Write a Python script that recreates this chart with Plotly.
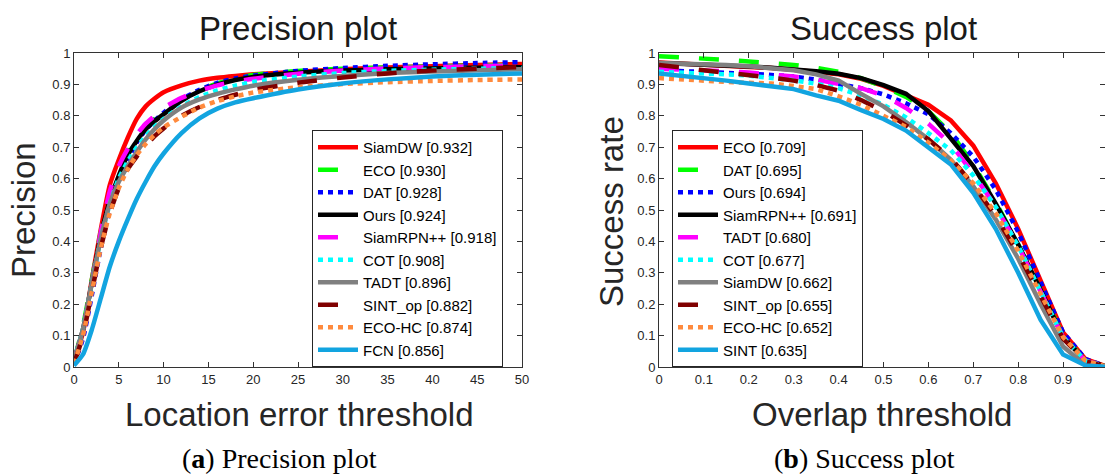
import plotly.graph_objects as go

# ---------------- Precision plot data ----------------
prec_x = [0, 1, 2, 3, 4, 5, 6, 7, 8, 9, 10, 12, 14, 16, 18, 20, 25, 30, 35, 40, 45, 50]

prec_names = ["SiamDW [0.932]", "ECO [0.930]", "DAT [0.928]", "Ours [0.924]",
              "SiamRPN++ [0.918]", "COT [0.908]", "TADT [0.896]", "SINT_op [0.882]",
              "ECO-HC [0.874]", "FCN [0.856]"]

prec_siamdw = [0.02, 0.11, 0.28, 0.44, 0.58, 0.66, 0.73, 0.79, 0.83, 0.855, 0.875, 0.897, 0.912, 0.921, 0.927, 0.932, 0.940, 0.948, 0.954, 0.958, 0.962, 0.965]
prec_eco = [0.02, 0.13, 0.28, 0.43, 0.54, 0.62, 0.685, 0.73, 0.765, 0.79, 0.81, 0.85, 0.88, 0.903, 0.918, 0.930, 0.943, 0.950, 0.954, 0.957, 0.960, 0.962]
prec_dat = [0.01, 0.09, 0.23, 0.38, 0.50, 0.59, 0.66, 0.715, 0.755, 0.785, 0.81, 0.852, 0.883, 0.905, 0.919, 0.928, 0.943, 0.952, 0.959, 0.964, 0.968, 0.971]
prec_ours = [0.02, 0.12, 0.27, 0.42, 0.53, 0.61, 0.675, 0.72, 0.757, 0.783, 0.805, 0.848, 0.878, 0.899, 0.914, 0.924, 0.937, 0.944, 0.948, 0.951, 0.953, 0.955]
prec_siamrpn = [0.02, 0.12, 0.27, 0.43, 0.56, 0.64, 0.695, 0.74, 0.775, 0.80, 0.825, 0.857, 0.880, 0.897, 0.909, 0.918, 0.934, 0.944, 0.951, 0.955, 0.958, 0.961]
prec_cot = [0.02, 0.12, 0.27, 0.41, 0.52, 0.60, 0.655, 0.70, 0.735, 0.765, 0.79, 0.83, 0.86, 0.881, 0.896, 0.908, 0.925, 0.936, 0.943, 0.947, 0.950, 0.952]
prec_tadt = [0.02, 0.12, 0.27, 0.41, 0.52, 0.59, 0.64, 0.685, 0.725, 0.758, 0.785, 0.826, 0.852, 0.870, 0.884, 0.896, 0.915, 0.927, 0.936, 0.941, 0.945, 0.948]
prec_sintop = [0.01, 0.10, 0.24, 0.38, 0.49, 0.57, 0.63, 0.67, 0.705, 0.735, 0.76, 0.80, 0.828, 0.850, 0.867, 0.882, 0.905, 0.922, 0.935, 0.944, 0.950, 0.955]
prec_ecohc = [0.01, 0.10, 0.24, 0.38, 0.49, 0.57, 0.63, 0.675, 0.71, 0.74, 0.763, 0.797, 0.826, 0.847, 0.862, 0.874, 0.891, 0.901, 0.907, 0.911, 0.914, 0.916]
prec_fcn = [0.005, 0.04, 0.12, 0.22, 0.32, 0.40, 0.47, 0.535, 0.59, 0.64, 0.68, 0.745, 0.792, 0.823, 0.843, 0.856, 0.884, 0.903, 0.916, 0.925, 0.931, 0.935]

prec_series = [prec_siamdw, prec_eco, prec_dat, prec_ours, prec_siamrpn,
               prec_cot, prec_tadt, prec_sintop, prec_ecohc, prec_fcn]

# ---------------- Success plot data ----------------
succ_x = [0, 0.05, 0.1, 0.15, 0.2, 0.25, 0.3, 0.35, 0.4, 0.45, 0.5,
          0.55, 0.6, 0.65, 0.7, 0.75, 0.8, 0.85, 0.9, 0.95, 1.0]

succ_names = ["ECO [0.709]", "DAT [0.695]", "Ours [0.694]", "SiamRPN++ [0.691]",
              "TADT [0.680]", "COT [0.677]", "SiamDW [0.662]", "SINT_op [0.655]",
              "ECO-HC [0.652]", "SINT [0.635]"]

succ_eco = [0.970, 0.967, 0.963, 0.960, 0.957, 0.952, 0.947, 0.940, 0.932, 0.918, 0.895, 0.865, 0.835, 0.785, 0.705, 0.585, 0.440, 0.275, 0.110, 0.025, 0.0]
succ_dat = [0.990, 0.987, 0.983, 0.978, 0.973, 0.968, 0.962, 0.953, 0.940, 0.920, 0.893, 0.860, 0.815, 0.745, 0.645, 0.525, 0.390, 0.245, 0.100, 0.020, 0.0]
succ_ours = [0.945, 0.943, 0.940, 0.937, 0.934, 0.930, 0.925, 0.915, 0.903, 0.888, 0.868, 0.840, 0.805, 0.745, 0.670, 0.565, 0.430, 0.270, 0.110, 0.025, 0.0]
succ_siamrpn = [0.968, 0.966, 0.963, 0.960, 0.957, 0.953, 0.948, 0.942, 0.934, 0.920, 0.898, 0.870, 0.815, 0.730, 0.640, 0.520, 0.390, 0.245, 0.095, 0.020, 0.0]
succ_tadt = [0.950, 0.948, 0.945, 0.942, 0.938, 0.933, 0.925, 0.915, 0.903, 0.888, 0.865, 0.825, 0.775, 0.710, 0.615, 0.510, 0.385, 0.240, 0.095, 0.020, 0.0]
succ_cot = [0.940, 0.938, 0.935, 0.932, 0.928, 0.922, 0.913, 0.902, 0.888, 0.865, 0.835, 0.795, 0.745, 0.690, 0.610, 0.510, 0.385, 0.240, 0.095, 0.020, 0.0]
succ_siamdw = [0.968, 0.967, 0.965, 0.962, 0.958, 0.952, 0.945, 0.932, 0.912, 0.870, 0.830, 0.780, 0.725, 0.660, 0.575, 0.470, 0.345, 0.200, 0.065, 0.005, 0.0]
succ_sintop = [0.962, 0.955, 0.945, 0.937, 0.930, 0.922, 0.912, 0.898, 0.880, 0.850, 0.815, 0.772, 0.725, 0.665, 0.580, 0.480, 0.360, 0.225, 0.090, 0.018, 0.0]
succ_ecohc = [0.920, 0.915, 0.912, 0.908, 0.905, 0.903, 0.895, 0.885, 0.862, 0.835, 0.800, 0.765, 0.715, 0.658, 0.585, 0.490, 0.370, 0.235, 0.095, 0.020, 0.0]
succ_sint = [0.935, 0.928, 0.920, 0.912, 0.903, 0.895, 0.885, 0.865, 0.848, 0.818, 0.790, 0.753, 0.700, 0.645, 0.555, 0.440, 0.300, 0.150, 0.040, 0.005, 0.0]

succ_series = [succ_eco, succ_dat, succ_ours, succ_siamrpn, succ_tadt,
               succ_cot, succ_siamdw, succ_sintop, succ_ecohc, succ_sint]

# ---------------- tick labels ----------------
prec_xticks = [0, 5, 10, 15, 20, 25, 30, 35, 40, 45, 50]
prec_xticktext = ["0", "5", "10", "15", "20", "25", "30", "35", "40", "45", "50"]
succ_xticks = [0, 0.1, 0.2, 0.3, 0.4, 0.5, 0.6, 0.7, 0.8, 0.9, 1.0]
succ_xticktext = ["0", "0.1", "0.2", "0.3", "0.4", "0.5", "0.6", "0.7", "0.8", "0.9", "1"]
yticks = [0, 0.1, 0.2, 0.3, 0.4, 0.5, 0.6, 0.7, 0.8, 0.9, 1.0]
yticktext = ["0", "0.1", "0.2", "0.3", "0.4", "0.5", "0.6", "0.7", "0.8", "0.9", "1"]

# ---------------- styles (by legend slot) ----------------
colors = ["#ff0000", "#00ff00", "#0000ff", "#000000", "#ff00ff",
          "#00ffff", "#808080", "#800000", "#ff8a3d", "#12a4e0"]
DASH = "20px,20px"
DOT = "5px,5px"
dashes = ["solid", DASH, DOT, "solid", DASH, DOT, "solid", DASH, DOT, "solid"]

W, H = 1105, 475
fig = go.Figure()

for i, (name, ys) in enumerate(zip(prec_names, prec_series)):
    fig.add_trace(go.Scatter(x=prec_x, y=ys, mode="lines", name=name,
                             line=dict(color=colors[i], width=4.5, dash=dashes[i], shape="spline", smoothing=0.6),
                             xaxis="x", yaxis="y", legend="legend"))
for i, (name, ys) in enumerate(zip(succ_names, succ_series)):
    fig.add_trace(go.Scatter(x=succ_x, y=ys, mode="lines", name=name,
                             line=dict(color=colors[i], width=4.5, dash=dashes[i]),
                             xaxis="x2", yaxis="y2", legend="legend2"))

ax_col = "#333333"
tick_font = dict(family="Liberation Sans, Arial, sans-serif", size=13, color="#262626")
common = dict(showline=True, linecolor=ax_col, linewidth=1, mirror="ticks",
              ticks="inside", ticklen=5, tickcolor=ax_col, showgrid=False,
              zeroline=False, tickfont=tick_font, fixedrange=True)

legend_font = dict(family="Liberation Sans, Arial, sans-serif", size=15, color="#000000")

ydom = [1 - 367 / H, 1 - 53 / H]
fig.update_layout(
    width=W, height=H,
    margin=dict(l=0, r=0, t=0, b=0, autoexpand=False),
    paper_bgcolor="white", plot_bgcolor="white",
    showlegend=True,
    xaxis=dict(domain=[74 / W, 522 / W], range=[0, 50], tickvals=prec_xticks,
               ticktext=prec_xticktext, anchor="y", **common),
    yaxis=dict(domain=ydom, range=[0, 1], tickvals=yticks, ticktext=yticktext,
               anchor="x", **common),
    xaxis2=dict(domain=[659 / W, 1.0], range=[0, (1105 - 659) / 449], tickvals=succ_xticks,
                ticktext=succ_xticktext, anchor="y2", **common),
    yaxis2=dict(domain=ydom, range=[0, 1], tickvals=yticks, ticktext=yticktext,
                anchor="x2", **common),
    legend=dict(x=312 / W, y=1 - 130 / H, xanchor="left", yanchor="top",
                bgcolor="white", bordercolor="#262626", borderwidth=1,
                font=legend_font, itemwidth=40, tracegroupgap=0),
    legend2=dict(x=672 / W, y=1 - 130 / H, xanchor="left", yanchor="top",
                 bgcolor="white", bordercolor="#262626", borderwidth=1,
                 font=legend_font, itemwidth=40, tracegroupgap=0),
)

title_font = dict(family="Liberation Sans, Arial, sans-serif", size=33, color="#1a1a1a")
label_font = dict(family="Liberation Sans, Arial, sans-serif", size=33, color="#262626")
cap_font = dict(family="Liberation Serif, Times New Roman, serif", size=28, color="#000000")

def ann(text, xpx, ypx, font, angle=0):
    fig.add_annotation(text=text, x=xpx / W, y=1 - ypx / H, xref="paper", yref="paper",
                       showarrow=False, font=font, textangle=angle,
                       xanchor="center", yanchor="middle")

ann("Precision plot", 298, 28, title_font)
ann("Success plot", 883, 28, title_font)
ann("Precision", 23, 210, label_font, -90)
ann("Success rate", 611, 212, label_font, -90)
ann("Location error threshold", 299, 414, label_font)
ann("Overlap threshold", 882, 414, label_font)
ann("(<b>a</b>) Precision plot", 279, 458, cap_font)
ann("(<b>b</b>) Success plot", 864, 458, cap_font)

fig.write_html("out.html", config={"displayModeBar": False},
               post_script="document.body.style.margin='0';document.body.style.overflow='hidden';")
